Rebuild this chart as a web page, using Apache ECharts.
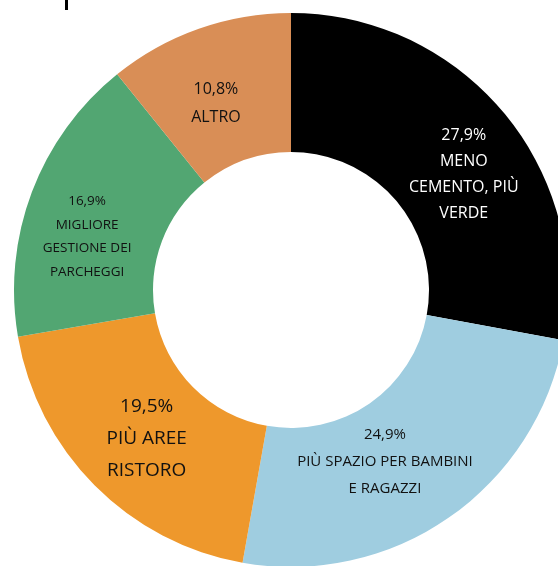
<!DOCTYPE html>
<html>
<head>
<meta charset="utf-8">
<script src="https://cdn.jsdelivr.net/npm/echarts@6/dist/echarts.min.js"></script>
<style>
html, body { margin: 0; padding: 0; background: #fff; }
#chart { width: 558px; height: 566px; }
</style>
</head>
<body>
<div id="chart"></div>
<script>
// categories and values, clockwise from 12 o'clock
var categories = ['MENO\nCEMENTO, PIÙ\nVERDE', 'PIÙ SPAZIO PER BAMBINI\nE RAGAZZI', 'PIÙ AREE\nRISTORO', 'MIGLIORE\nGESTIONE DEI\nPARCHEGGI', 'ALTRO'];
var values     = [27.9, 24.9, 19.5, 16.9, 10.8];
var colors     = ['#000000', '#9fcde0', '#ee982c', '#52a672', '#d98e56'];

// per-label tweaks
var labelSize   = [16, 15, 19, 13.5, 16];
var labelHeight = [26, 27, 32, 23.5, 28];
var labelColor  = ['#ffffff', '#111', '#111', '#111', '#111'];
var labelShift  = [[11, 19], [-26, -1], [5, 0], [-7, 21], [-5, 12]];

var data = [];
for (var i = 0; i < values.length; i++) {
  data.push({
    name: categories[i],
    value: values[i],
    itemStyle: { color: colors[i] },
    label: {
      color: labelColor[i],
      fontSize: labelSize[i],
      lineHeight: labelHeight[i]
    }
  });
}

var myChart = echarts.init(document.getElementById('chart'));
var option = {
  animation: false,
  graphic: [
    { type: 'rect', left: 65, top: 0, shape: { width: 3, height: 10 }, style: { fill: '#000' } }
  ],
  series: [
    {
      type: 'pie',
      center: [291, 290],
      radius: [138, 277],
      startAngle: 90,
      clockwise: true,
      avoidLabelOverlap: false,
      itemStyle: { borderWidth: 0 },
      label: {
        show: true,
        position: 'inside',
        fontFamily: 'Open Sans',
        align: 'center',
        formatter: function (p) {
          return p.value.toFixed(1).replace('.', ',') + '%\n' + p.name;
        }
      },
      labelLine: { show: false },
      labelLayout: function (p) {
        return { dx: labelShift[p.dataIndex][0], dy: labelShift[p.dataIndex][1] };
      },
      emphasis: { disabled: true },
      data: data
    }
  ]
};
myChart.setOption(option);
</script>
</body>
</html>
